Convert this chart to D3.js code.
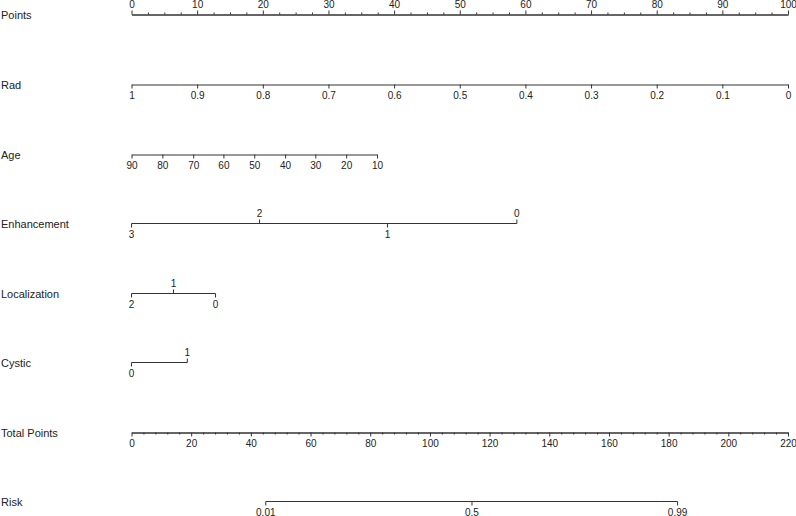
<!DOCTYPE html>
<html>
<head>
<meta charset="utf-8">
<script src="https://cdn.jsdelivr.net/npm/d3@7"></script>
<style>
  body { margin: 0; background: #fff; }
  svg text { font-family: "Liberation Sans", Arial, sans-serif; fill: #222; }
</style>
</head>
<body>
<div id="viz"></div>
<script>
// Nomogram: each predictor is mapped onto the 0-100 "Points" scale,
// the sum is read on "Total Points" and converted to "Risk".

var width = 796, height = 516;
var AxisLeft = 131.5, AxisRight = 788;

// row labels, top to bottom
var rowNames = ["Points", "Rad", "Age", "Enhancement", "Localization", "Cystic", "Total Points", "Risk"];
var rowY = [14, 84, 154, 223, 293, 362, 432, 501];

// Points scale
var pointsTicks = [0, 10, 20, 30, 40, 50, 60, 70, 80, 90, 100];
var pointsMinor = [2.5, 5, 7.5, 12.5, 15, 17.5, 22.5, 25, 27.5, 32.5, 35, 37.5, 42.5, 45, 47.5,
                   52.5, 55, 57.5, 62.5, 65, 67.5, 72.5, 75, 77.5, 82.5, 85, 87.5, 92.5, 95, 97.5];

// Rad (continuous, values and their points)
var radValues = [1, 0.9, 0.8, 0.7, 0.6, 0.5, 0.4, 0.3, 0.2, 0.1, 0];
var radPoints = [0, 10, 20, 30, 40, 50, 60, 70, 80, 90, 100];

// Age
var ageValues = [90, 80, 70, 60, 50, 40, 30, 20, 10];
var agePoints = [0, 4.7, 9.4, 14.0, 18.7, 23.4, 28.0, 32.7, 37.4];

// categorical predictors: level labels, points, label side
var enhancementLevels = ["3", "2", "1", "0"];
var enhancementPoints = [0, 19.5, 39.0, 58.7];
var enhancementSide = ["below", "above", "below", "above"];

var localizationLevels = ["2", "1", "0"];
var localizationPoints = [0, 6.4, 12.8];
var localizationSide = ["below", "above", "below"];

var cysticLevels = ["0", "1"];
var cysticPoints = [0, 8.5];
var cysticSide = ["below", "above"];

// Total points scale
var totalTicks = [0, 20, 40, 60, 80, 100, 120, 140, 160, 180, 200, 220];
var totalMinor = [4, 8, 12, 16, 24, 28, 32, 36, 44, 48, 52, 56, 64, 68, 72, 76, 84, 88, 92, 96,
                  104, 108, 112, 116, 124, 128, 132, 136, 144, 148, 152, 156, 164, 168, 172, 176,
                  184, 188, 192, 196, 204, 208, 212, 216];

// Risk
var riskLabels = ["0.01", "0.5", "0.99"];
var riskTotal = [45.0, 114.1, 183.0];

var lineColor = "#333";

var svg = d3.select("#viz").append("svg")
    .attr("width", width)
    .attr("height", height);

var xPoints = d3.scaleLinear().domain([0, 100]).range([AxisLeft, AxisRight]);
var xTotal = d3.scaleLinear().domain([0, 220]).range([AxisLeft, AxisRight]);

function style_axis(g) {
    g.attr("font-size", 10).attr("font-family", null);
    g.selectAll("path, line").attr("stroke", lineColor);
    g.selectAll("text").attr("fill", "#222");
}

// row labels
svg.append("g").selectAll("text")
    .data(rowNames)
    .join("text")
    .attr("x", 1)
    .attr("y", function(d, i) { return rowY[i] + 4.5; })
    .attr("font-size", 11)
    .text(function(d) { return d; });

function add_row(i) { return svg.append("g").attr("transform", "translate(0," + (rowY[i] + 0.5) + ")"); }

// Points
var gp = add_row(0);
gp.append("g").call(d3.axisTop(xPoints).tickValues(pointsMinor).tickSize(2).tickSizeOuter(0).tickFormat(""));
gp.append("g").call(d3.axisTop(xPoints).tickValues(pointsTicks).tickSize(4).tickSizeOuter(0).tickPadding(3));
gp.selectAll("g").call(style_axis);

// Rad
var radScale = d3.scaleLinear().domain(radValues).range(radPoints.map(xPoints));
add_row(1).append("g")
    .call(d3.axisBottom(radScale).tickValues(radValues).tickSize(4).tickSizeOuter(0).tickPadding(3).tickFormat(d3.format("")))
    .call(style_axis);

// Age
var ageScale = d3.scaleLinear().domain(ageValues).range(agePoints.map(xPoints));
add_row(2).append("g")
    .call(d3.axisBottom(ageScale).tickValues(ageValues).tickSize(4).tickSizeOuter(0).tickPadding(3))
    .call(style_axis);

// categorical rows, labels alternating above / below
function categorical(i, levels, points, side) {
    var g = add_row(i);
    var xs = points.map(xPoints);
    g.append("line")
        .attr("x1", d3.min(xs)).attr("x2", d3.max(xs))
        .attr("stroke", lineColor);
    var t = g.selectAll("g.tick")
        .data(levels)
        .join("g")
        .attr("class", "tick")
        .attr("transform", function(d, j) { return "translate(" + xs[j] + ",0)"; });
    t.append("line")
        .attr("y2", function(d, j) { return side[j] == "above" ? -4 : 4; })
        .attr("stroke", lineColor);
    t.append("text")
        .attr("text-anchor", "middle")
        .attr("font-size", 10)
        .attr("y", function(d, j) { return side[j] == "above" ? -7 : 14; })
        .text(function(d) { return d; });
}
categorical(3, enhancementLevels, enhancementPoints, enhancementSide);
categorical(4, localizationLevels, localizationPoints, localizationSide);
categorical(5, cysticLevels, cysticPoints, cysticSide);

// Total Points
var gt = add_row(6);
gt.append("g").call(d3.axisBottom(xTotal).tickValues(totalMinor).tickSize(2).tickSizeOuter(0).tickFormat(""));
gt.append("g").call(d3.axisBottom(xTotal).tickValues(totalTicks).tickSize(4).tickSizeOuter(0).tickPadding(3));
gt.selectAll("g").call(style_axis);

// Risk
var riskScale = d3.scalePoint().domain(riskLabels).range(riskTotal.map(xTotal));
riskScale = d3.scaleOrdinal().domain(riskLabels).range(riskTotal.map(xTotal));
var gr = add_row(7);
gr.append("line")
    .attr("x1", xTotal(d3.min(riskTotal))).attr("x2", xTotal(d3.max(riskTotal)))
    .attr("stroke", lineColor);
var rt = gr.selectAll("g.tick")
    .data(riskLabels)
    .join("g")
    .attr("transform", function(d) { return "translate(" + riskScale(d) + ",0)"; });
rt.append("line").attr("y2", 4).attr("stroke", lineColor);
rt.append("text")
    .attr("text-anchor", "middle")
    .attr("font-size", 10)
    .attr("y", 14)
    .text(function(d) { return d; });
</script>
</body>
</html>
